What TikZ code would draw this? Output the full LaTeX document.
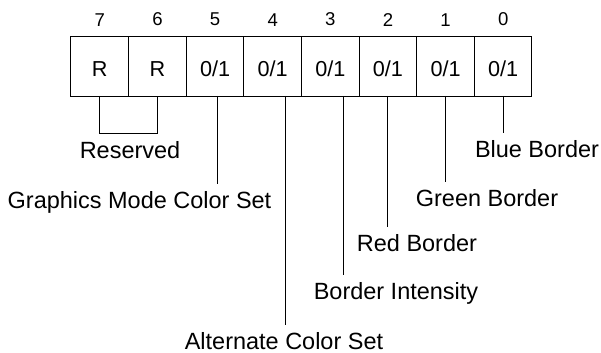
\documentclass[tikz,border=0pt]{standalone}
\usepackage{fontspec}
\setmainfont{Liberation Sans}
\usetikzlibrary{positioning,calc}

\begin{document}
\begin{tikzpicture}[x=0.25mm,y=0.25mm,line width=0.7pt,
    cell/.style={draw,minimum width=14.406mm,minimum height=14.75mm,inner sep=0pt,outer sep=0pt,
        text height=14.5pt,text depth=0pt,font=\fontsize{15.4}{18}\selectfont},
    bitnum/.style={inner sep=0pt,font=\fontsize{13.2}{16}\selectfont},
    lbl/.style={inner sep=2mm,text height=12pt,text depth=0pt,anchor=base,
        font=\fontsize{16.7}{20}\selectfont}]
    \useasboundingbox (0,0) rectangle (601,353);
    % register, bit 7 on the left
    \node[cell] (c7) at (99.8,286.5) {R};
    \node[cell,right=0pt of c7] (c6) {R};
    \foreach \i [remember=\i as \prev (initially 6)] in {5,4,...,0}
        \node[cell,right=0pt of c\prev] (c\i) {0/1};
    \foreach \i in {7,6,...,0}
        \node[bitnum,above=2.6mm of c\i] (b\i) {\i};
    % field names
    \node[lbl] (res) at (130,194) {Reserved};
    \node[lbl] (gfx) at (139.5,144) {Graphics Mode Color Set};
    \node[lbl] (alt) at (284,3) {Alternate Color Set};
    \node[lbl] (bint) at (396,53) {Border Intensity};
    \node[lbl] (red) at (417,101) {Red Border};
    \node[lbl] (green) at (487,146) {Green Border};
    \node[lbl] (blue) at (537,195) {Blue Border};
    % leader lines
    \coordinate (t5) at ($(c5.south)+(2,0)$);
    \coordinate (t4) at ($(c4.south)+(13,0)$);
    \coordinate (t3) at ($(c3.south)+(13,0)$);
    \draw (c7.south) -- (c7.south |- res.north) -| (c6.south);
    \draw (t5) -- (t5 |- gfx.north);
    \draw (t4) -- (t4 |- alt.north);
    \draw (t3) -- (t3 |- bint.north);
    \draw (c2.south) -- (c2.south |- red.north);
    \draw (c1.south) -- (c1.south |- green.north);
    \draw (c0.south) -- (c0.south |- blue.north);
\end{tikzpicture}
\end{document}
